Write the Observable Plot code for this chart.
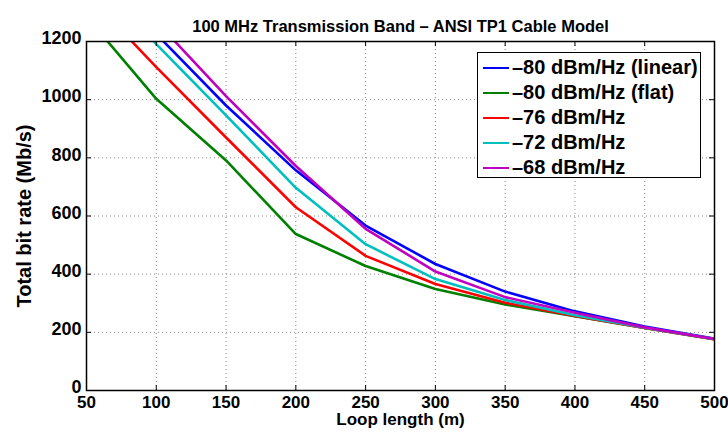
<!DOCTYPE html>
<html>
<head>
<meta charset="utf-8">
<script src="https://cdn.jsdelivr.net/npm/d3@7"></script>
<script src="https://cdn.jsdelivr.net/npm/@observablehq/plot@0.6"></script>
<style>
  html, body { margin: 0; padding: 0; background: #fff; }
  #wrap { position: relative; width: 728px; height: 433px; font-family: "Liberation Sans", Arial, sans-serif; }
  #legend { position: absolute; left: 477px; top: 52px; width: 224px; height: 126px; border: 1.5px solid #000; background: #fff; box-sizing: border-box; padding-top: 2px; }
  .row { height: 25px; display: flex; align-items: center; font-weight: bold; font-size: 20px; color: #000; white-space: nowrap; }
  .sw { width: 26px; height: 0; border-top: 2.5px solid; margin-left: 5px; margin-right: 3px; }
</style>
</head>
<body>
<div id="wrap"></div>
<script>
const title = "100 MHz Transmission Band \u2013 ANSI TP1 Cable Model";
const xLabel = "Loop length (m)";
const yLabel = "Total bit rate (Mb/s)";
const lengths = [50, 100, 150, 200, 250, 300, 350, 400, 450, 500];
const seriesNames = ["\u201380 dBm/Hz (linear)", "\u201380 dBm/Hz (flat)", "\u201376 dBm/Hz", "\u201372 dBm/Hz", "\u201368 dBm/Hz"];
const seriesColors = ["#0000ff", "#008000", "#ff0000", "#00bfbf", "#bf00bf"];
const linear80 = [1500, 1226, 980, 757, 567, 435, 340, 272, 220, 178];
const flat80   = [1286, 1003, 791, 538, 428, 349, 296, 255, 215, 176];
const psd76    = [1364, 1112, 870, 630, 463, 366, 302, 256, 215, 176];
const psd72    = [1466, 1191, 946, 697, 503, 383, 311, 259, 216, 177];
const psd68    = [1545, 1269, 1012, 772, 556, 409, 321, 267, 217, 177];
const xTicks = [50, 100, 150, 200, 250, 300, 350, 400, 450, 500];
const yTicks = [0, 200, 400, 600, 800, 1000, 1200];

const seriesValues = [linear80, flat80, psd76, psd72, psd68];
const rows = [];
seriesNames.forEach((name, i) => {
  lengths.forEach((len, j) => rows.push({series: name, length: len, rate: seriesValues[i][j]}));
});

const W = 728, H = 433;
const mL = 86, mR = 14, mT = 41, mB = 43;
const fw = W - mL - mR, fh = H - mT - mB;
const tick = 5;
const font = "Liberation Sans, Arial, sans-serif";

const chart = Plot.plot({
  width: W, height: H,
  marginLeft: mL, marginRight: mR, marginTop: mT, marginBottom: mB,
  style: {fontFamily: font, background: "#fff", overflow: "visible"},
  x: {domain: [50, 500], ticks: xTicks},
  y: {domain: [0, 1200], ticks: yTicks},
  color: {domain: seriesNames, range: seriesColors},
  marks: [
    Plot.ruleX(xTicks.slice(1, -1), {x: d => d, stroke: "#888", strokeWidth: 1, strokeDasharray: "1,3"}),
    Plot.ruleY(yTicks.slice(1, -1), {y: d => d, stroke: "#888", strokeWidth: 1, strokeDasharray: "1,3"}),
    Plot.line(rows, {x: "length", y: "rate", z: "series", stroke: "series", strokeWidth: 2.6, clip: true}),
    Plot.ruleX(xTicks, {x: d => d, stroke: "#000", strokeWidth: 1, insetTop: fh - tick}),
    Plot.ruleX(xTicks, {x: d => d, stroke: "#000", strokeWidth: 1, insetBottom: fh - tick}),
    Plot.ruleY(yTicks, {y: d => d, stroke: "#000", strokeWidth: 1, insetRight: fw - tick}),
    Plot.ruleY(yTicks, {y: d => d, stroke: "#000", strokeWidth: 1, insetLeft: fw - tick}),
    Plot.frame({stroke: "#000", strokeWidth: 1.5}),
    Plot.axisX({ticks: xTicks, tickSize: 0, tickPadding: 5, fontSize: 17, fontWeight: "bold", label: null, tickFormat: d => String(d)}),
    Plot.axisY({ticks: yTicks, tickSize: 0, tickPadding: 5, dy: -3, fontSize: 18, fontWeight: "bold", label: null, tickFormat: d => String(d)}),
    Plot.text([title], {frameAnchor: "top", dy: -21, text: d => d, fontSize: 16.5, fontWeight: "bold", fill: "#000"}),
    Plot.text([xLabel], {frameAnchor: "bottom", dy: 34.5, text: d => d, fontSize: 17, fontWeight: "bold", fill: "#000"}),
    Plot.text([yLabel], {frameAnchor: "left", dx: -62, textAnchor: "middle", text: d => d, rotate: -90, fontSize: 20, fontWeight: "bold", fill: "#000"})
  ]
});

const wrap = document.getElementById("wrap");
wrap.appendChild(chart);
const legend = document.createElement("div");
legend.id = "legend";
seriesNames.forEach((name, i) => {
  const r = document.createElement("div");
  r.className = "row";
  const sw = document.createElement("span");
  sw.className = "sw";
  sw.style.borderTopColor = seriesColors[i];
  const t = document.createElement("span");
  t.textContent = name;
  r.appendChild(sw); r.appendChild(t);
  legend.appendChild(r);
});
wrap.appendChild(legend);
</script>
</body>
</html>
